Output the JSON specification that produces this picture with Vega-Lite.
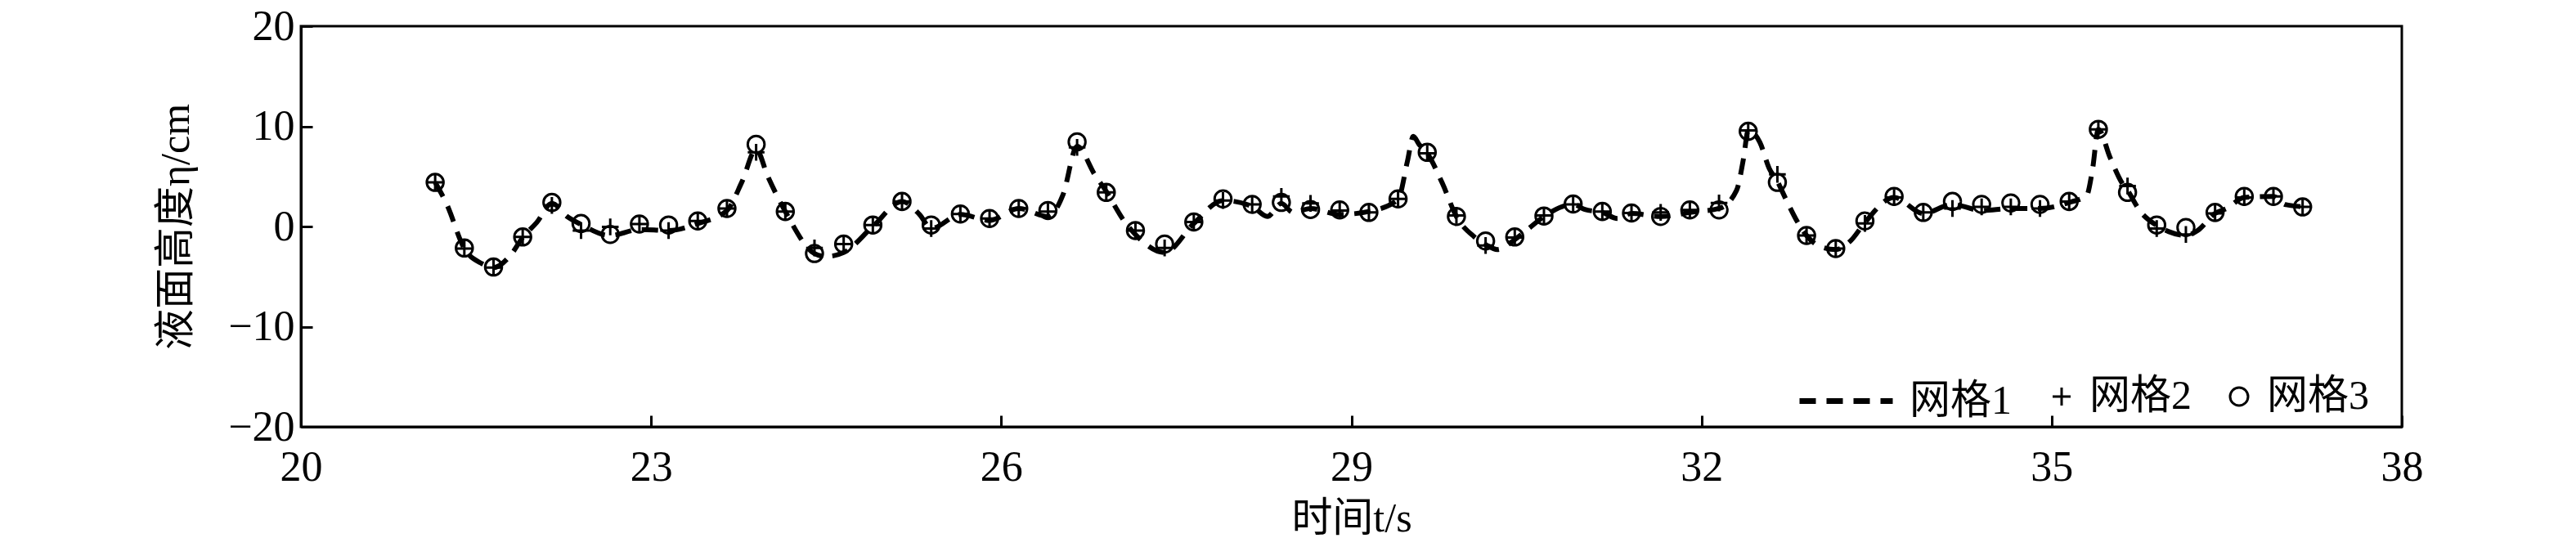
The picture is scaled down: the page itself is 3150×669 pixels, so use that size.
{
  "$schema": "https://vega.github.io/schema/vega-lite/v6.json",
  "width": 2569,
  "height": 490,
  "autosize": {"type": "none"},
  "padding": {"left": 368, "top": 32, "right": 213, "bottom": 147},
  "background": "white",
  "config": {
    "view": {"stroke": "black", "strokeWidth": 3},
    "axis": {
      "domainColor": "black", "domainWidth": 3, "grid": false,
      "tickColor": "black", "tickWidth": 3, "tickSize": -14,
      "labelFont": "Liberation Serif", "labelFontSize": 52, "labelColor": "black",
      "titleFont": "Liberation Serif, Noto Sans CJK SC", "titleFontSize": 50, "titleFontWeight": "normal", "titleColor": "black",
      "labelFlush": false, "labelOverlap": false
    },
    "legend": {"padding": 0, "labelFont": "Liberation Serif, Noto Sans CJK SC", "labelFontSize": 50, "labelColor": "black"}
  },
  "datasets": {
    "line": [
      {"t": 21.15, "v": 4.4}, {"t": 21.25, "v": 2.2}, {"t": 21.40, "v": -2.2}, {"t": 21.55, "v": -3.7}, {"t": 21.65, "v": -4.1},
      {"t": 21.80, "v": -2.8}, {"t": 21.90, "v": -1.1}, {"t": 22.02, "v": 0.4}, {"t": 22.15, "v": 2.3}, {"t": 22.28, "v": 1.0},
      {"t": 22.40, "v": 0.2}, {"t": 22.65, "v": -0.9}, {"t": 22.90, "v": -0.3}, {"t": 23.15, "v": -0.4}, {"t": 23.40, "v": 0.3},
      {"t": 23.65, "v": 1.6}, {"t": 23.78, "v": 4.5}, {"t": 23.90, "v": 7.7}, {"t": 24.00, "v": 5.0}, {"t": 24.15, "v": 1.5},
      {"t": 24.40, "v": -2.7}, {"t": 24.50, "v": -3.0}, {"t": 24.65, "v": -2.6}, {"t": 24.90, "v": 0.0}, {"t": 25.15, "v": 2.5},
      {"t": 25.30, "v": 1.2}, {"t": 25.40, "v": -0.2}, {"t": 25.65, "v": 1.2}, {"t": 25.90, "v": 0.6}, {"t": 26.15, "v": 1.8},
      {"t": 26.40, "v": 1.0}, {"t": 26.53, "v": 3.2}, {"t": 26.65, "v": 8.0}, {"t": 26.80, "v": 5.2}, {"t": 26.90, "v": 3.5},
      {"t": 27.05, "v": 0.6}, {"t": 27.15, "v": -0.8}, {"t": 27.40, "v": -2.6}, {"t": 27.65, "v": 0.3}, {"t": 27.90, "v": 2.6},
      {"t": 28.15, "v": 2.0}, {"t": 28.28, "v": 1.0}, {"t": 28.40, "v": 2.3}, {"t": 28.50, "v": 1.4}, {"t": 28.65, "v": 1.8},
      {"t": 28.90, "v": 1.2}, {"t": 29.15, "v": 1.5}, {"t": 29.40, "v": 2.7}, {"t": 29.48, "v": 6.5}, {"t": 29.53, "v": 9.0},
      {"t": 29.58, "v": 8.2}, {"t": 29.65, "v": 7.3}, {"t": 29.78, "v": 4.3}, {"t": 29.90, "v": 1.0}, {"t": 30.05, "v": -1.0},
      {"t": 30.15, "v": -1.8}, {"t": 30.25, "v": -2.3}, {"t": 30.40, "v": -1.3}, {"t": 30.52, "v": -0.2}, {"t": 30.65, "v": 1.0},
      {"t": 30.90, "v": 2.2}, {"t": 31.00, "v": 1.7}, {"t": 31.15, "v": 1.4}, {"t": 31.28, "v": 0.8}, {"t": 31.40, "v": 1.3},
      {"t": 31.65, "v": 1.0}, {"t": 31.90, "v": 1.4}, {"t": 32.15, "v": 1.8}, {"t": 32.30, "v": 3.6}, {"t": 32.36, "v": 6.8},
      {"t": 32.40, "v": 9.6}, {"t": 32.50, "v": 8.4}, {"t": 32.58, "v": 5.8}, {"t": 32.65, "v": 4.5}, {"t": 32.72, "v": 2.8},
      {"t": 32.83, "v": 0.3}, {"t": 32.90, "v": -0.9}, {"t": 33.00, "v": -1.9}, {"t": 33.15, "v": -2.3}, {"t": 33.28, "v": -1.4},
      {"t": 33.40, "v": 0.4}, {"t": 33.65, "v": 2.9}, {"t": 33.90, "v": 1.3}, {"t": 34.15, "v": 2.2}, {"t": 34.40, "v": 1.6},
      {"t": 34.65, "v": 1.8}, {"t": 34.90, "v": 1.8}, {"t": 35.15, "v": 2.4}, {"t": 35.30, "v": 3.1}, {"t": 35.35, "v": 5.7},
      {"t": 35.40, "v": 9.7}, {"t": 35.50, "v": 6.9}, {"t": 35.60, "v": 4.4}, {"t": 35.65, "v": 3.6}, {"t": 35.76, "v": 1.5},
      {"t": 35.90, "v": 0.1}, {"t": 36.00, "v": -0.5}, {"t": 36.15, "v": -0.9}, {"t": 36.25, "v": -0.4}, {"t": 36.40, "v": 1.3},
      {"t": 36.50, "v": 1.8}, {"t": 36.65, "v": 2.9}, {"t": 36.90, "v": 3.0}, {"t": 37.00, "v": 2.2}, {"t": 37.15, "v": 1.95},
      {"t": 37.22, "v": 1.8}
    ],
    "points": [
      {"t": 21.15, "s": "网格2", "v": 4.4}, {"t": 21.15, "s": "网格3", "v": 4.4},
      {"t": 21.40, "s": "网格2", "v": -2.2}, {"t": 21.40, "s": "网格3", "v": -2.15},
      {"t": 21.65, "s": "网格2", "v": -4.1}, {"t": 21.65, "s": "网格3", "v": -4.05},
      {"t": 21.90, "s": "网格2", "v": -1.05}, {"t": 21.90, "s": "网格3", "v": -1.05},
      {"t": 22.15, "s": "网格2", "v": 2.1}, {"t": 22.15, "s": "网格3", "v": 2.4},
      {"t": 22.40, "s": "网格2", "v": -0.4}, {"t": 22.40, "s": "网格3", "v": 0.3},
      {"t": 22.65, "s": "网格2", "v": -0.05}, {"t": 22.65, "s": "网格3", "v": -0.8},
      {"t": 22.90, "s": "网格2", "v": 0.25}, {"t": 22.90, "s": "网格3", "v": 0.25},
      {"t": 23.15, "s": "网格2", "v": -0.4}, {"t": 23.15, "s": "网格3", "v": 0.15},
      {"t": 23.40, "s": "网格2", "v": 0.55}, {"t": 23.40, "s": "网格3", "v": 0.55},
      {"t": 23.65, "s": "网格2", "v": 1.8}, {"t": 23.65, "s": "网格3", "v": 1.8},
      {"t": 23.90, "s": "网格2", "v": 7.4}, {"t": 23.90, "s": "网格3", "v": 8.2},
      {"t": 24.15, "s": "网格2", "v": 1.5}, {"t": 24.15, "s": "网格3", "v": 1.5},
      {"t": 24.40, "s": "网格2", "v": -2.15}, {"t": 24.40, "s": "网格3", "v": -2.7},
      {"t": 24.65, "s": "网格2", "v": -1.75}, {"t": 24.65, "s": "网格3", "v": -1.75},
      {"t": 24.90, "s": "网格2", "v": 0.15}, {"t": 24.90, "s": "网格3", "v": 0.15},
      {"t": 25.15, "s": "网格2", "v": 2.5}, {"t": 25.15, "s": "网格3", "v": 2.5},
      {"t": 25.40, "s": "网格2", "v": -0.2}, {"t": 25.40, "s": "网格3", "v": 0.15},
      {"t": 25.65, "s": "网格2", "v": 1.25}, {"t": 25.65, "s": "网格3", "v": 1.25},
      {"t": 25.90, "s": "网格2", "v": 0.8}, {"t": 25.90, "s": "网格3", "v": 0.8},
      {"t": 26.15, "s": "网格2", "v": 1.8}, {"t": 26.15, "s": "网格3", "v": 1.8},
      {"t": 26.40, "s": "网格2", "v": 1.5}, {"t": 26.40, "s": "网格3", "v": 1.6},
      {"t": 26.65, "s": "网格2", "v": 7.9}, {"t": 26.65, "s": "网格3", "v": 8.45},
      {"t": 26.90, "s": "网格2", "v": 3.4}, {"t": 26.90, "s": "网格3", "v": 3.4},
      {"t": 27.15, "s": "网格2", "v": -0.4}, {"t": 27.15, "s": "网格3", "v": -0.4},
      {"t": 27.40, "s": "网格2", "v": -2.15}, {"t": 27.40, "s": "网格3", "v": -1.75},
      {"t": 27.65, "s": "网格2", "v": 0.45}, {"t": 27.65, "s": "网格3", "v": 0.45},
      {"t": 27.90, "s": "网格2", "v": 2.6}, {"t": 27.90, "s": "网格3", "v": 2.75},
      {"t": 28.15, "s": "网格2", "v": 2.2}, {"t": 28.15, "s": "网格3", "v": 2.2},
      {"t": 28.40, "s": "网格2", "v": 3.0}, {"t": 28.40, "s": "网格3", "v": 2.4},
      {"t": 28.65, "s": "网格2", "v": 2.3}, {"t": 28.65, "s": "网格3", "v": 1.7},
      {"t": 28.90, "s": "网格2", "v": 1.6}, {"t": 28.90, "s": "网格3", "v": 1.65},
      {"t": 29.15, "s": "网格2", "v": 1.4}, {"t": 29.15, "s": "网格3", "v": 1.4},
      {"t": 29.40, "s": "网格2", "v": 2.75}, {"t": 29.40, "s": "网格3", "v": 2.75},
      {"t": 29.65, "s": "网格2", "v": 7.3}, {"t": 29.65, "s": "网格3", "v": 7.4},
      {"t": 29.90, "s": "网格2", "v": 1.1}, {"t": 29.90, "s": "网格3", "v": 1.0},
      {"t": 30.15, "s": "网格2", "v": -1.9}, {"t": 30.15, "s": "网格3", "v": -1.45},
      {"t": 30.40, "s": "网格2", "v": -1.1}, {"t": 30.40, "s": "网格3", "v": -1.05},
      {"t": 30.65, "s": "网格2", "v": 1.1}, {"t": 30.65, "s": "网格3", "v": 1.05},
      {"t": 30.90, "s": "网格2", "v": 2.2}, {"t": 30.90, "s": "网格3", "v": 2.25},
      {"t": 31.15, "s": "网格2", "v": 1.5}, {"t": 31.15, "s": "网格3", "v": 1.5},
      {"t": 31.40, "s": "网格2", "v": 1.35}, {"t": 31.40, "s": "网格3", "v": 1.35},
      {"t": 31.65, "s": "网格2", "v": 1.4}, {"t": 31.65, "s": "网格3", "v": 1.0},
      {"t": 31.90, "s": "网格2", "v": 1.65}, {"t": 31.90, "s": "网格3", "v": 1.65},
      {"t": 32.15, "s": "网格2", "v": 2.35}, {"t": 32.15, "s": "网格3", "v": 1.65},
      {"t": 32.40, "s": "网格2", "v": 9.6}, {"t": 32.40, "s": "网格3", "v": 9.5},
      {"t": 32.65, "s": "网格2", "v": 5.2}, {"t": 32.65, "s": "网格3", "v": 4.4},
      {"t": 32.90, "s": "网格2", "v": -0.9}, {"t": 32.90, "s": "网格3", "v": -0.9},
      {"t": 33.15, "s": "网格2", "v": -2.2}, {"t": 33.15, "s": "网格3", "v": -2.2},
      {"t": 33.40, "s": "网格2", "v": 0.3}, {"t": 33.40, "s": "网格3", "v": 0.55},
      {"t": 33.65, "s": "网格2", "v": 2.9}, {"t": 33.65, "s": "网格3", "v": 3.0},
      {"t": 33.90, "s": "网格2", "v": 1.4}, {"t": 33.90, "s": "网格3", "v": 1.4},
      {"t": 34.15, "s": "网格2", "v": 1.8}, {"t": 34.15, "s": "网格3", "v": 2.5},
      {"t": 34.40, "s": "网格2", "v": 1.95}, {"t": 34.40, "s": "网格3", "v": 2.2},
      {"t": 34.65, "s": "网格2", "v": 1.95}, {"t": 34.65, "s": "网格3", "v": 2.35},
      {"t": 34.90, "s": "网格2", "v": 1.8}, {"t": 34.90, "s": "网格3", "v": 2.2},
      {"t": 35.15, "s": "网格2", "v": 2.5}, {"t": 35.15, "s": "网格3", "v": 2.5},
      {"t": 35.40, "s": "网格2", "v": 9.7}, {"t": 35.40, "s": "网格3", "v": 9.7},
      {"t": 35.65, "s": "网格2", "v": 4.05}, {"t": 35.65, "s": "网格3", "v": 3.4},
      {"t": 35.90, "s": "网格2", "v": -0.2}, {"t": 35.90, "s": "网格3", "v": 0.15},
      {"t": 36.15, "s": "网格2", "v": -0.8}, {"t": 36.15, "s": "网格3", "v": -0.1},
      {"t": 36.40, "s": "网格2", "v": 1.3}, {"t": 36.40, "s": "网格3", "v": 1.4},
      {"t": 36.65, "s": "网格2", "v": 2.9}, {"t": 36.65, "s": "网格3", "v": 3.0},
      {"t": 36.90, "s": "网格2", "v": 3.0}, {"t": 36.90, "s": "网格3", "v": 3.0},
      {"t": 37.15, "s": "网格2", "v": 1.95}, {"t": 37.15, "s": "网格3", "v": 1.95}
    ]
  },
  "layer": [
    {
      "data": {"name": "line"},
      "transform": [{"calculate": "'网格1'", "as": "s"}],
      "mark": {"type": "line", "interpolate": "monotone", "color": "black", "strokeWidth": 6},
      "encoding": {
        "x": {"field": "t", "type": "quantitative",
          "scale": {"domain": [20, 38], "nice": false},
          "axis": {"values": [20, 23, 26, 29, 32, 35, 38], "format": "d", "title": "时间t/s", "labelPadding": 38, "titlePadding": 12}},
        "y": {"field": "v", "type": "quantitative",
          "scale": {"domain": [-20, 20], "nice": false},
          "axis": {"values": [-20, -10, 0, 10, 20], "format": "d", "title": "液面高度η/cm", "labelPadding": 22, "titlePadding": 38}},
        "strokeDash": {"field": "s", "type": "nominal",
          "scale": {"domain": ["网格1"], "range": [[20, 13]]},
          "legend": {"orient": "none", "legendX": 1829, "legendY": 398, "title": null,
            "symbolType": "stroke", "symbolSize": 12996, "symbolStrokeWidth": 7, "symbolStrokeColor": "black",
            "labelOffset": 17,
            "encode": {"symbols": {"update": {"strokeDash": {"value": [27, 16]}}}}}}
      }
    },
    {
      "data": {"name": "points"},
      "mark": {"type": "point", "filled": false, "color": "black", "strokeWidth": 3, "size": 420, "opacity": 1},
      "encoding": {
        "x": {"field": "t", "type": "quantitative"},
        "y": {"field": "v", "type": "quantitative"},
        "shape": {"field": "s", "type": "nominal",
          "scale": {"domain": ["网格2", "网格3"], "range": ["M-1,0H1M0,-1V1", "circle"]},
          "legend": {"orient": "none", "legendX": 2128, "legendY": 428, "title": null, "direction": "horizontal",
            "symbolSize": 484, "symbolStrokeWidth": 3, "symbolStrokeColor": "black", "symbolFillColor": "transparent",
            "labelOffset": 9, "columnPadding": 33}}
      }
    }
  ]
}
